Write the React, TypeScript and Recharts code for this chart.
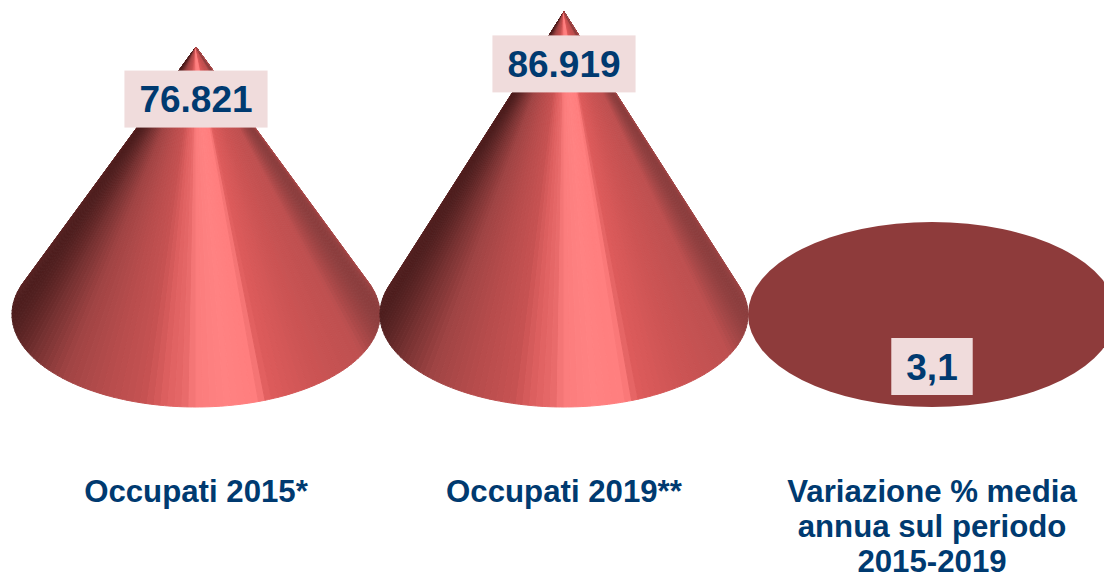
import React from "react";
import { BarChart, Bar, XAxis, YAxis, LabelList } from "recharts";

const categories = ["Occupati 2015*", "Occupati 2019**", "Variazione % media|annua sul periodo|2015-2019"];
const values = [76821, 86919, 3.1];
const valueLabels = ["76.821", "86.919", "3,1"];

const chartData = categories.map((name, i) => ({ name, value: values[i], label: valueLabels[i] }));

const NAVY = "#003a70";
const FONT = "'Liberation Sans', Arial, sans-serif";
const BASE_RY = 92.5;
const WEDGES = 100;
const SHADE: [number, number[]][] = [
  [0, [78, 30, 30]],
  [0.015, [90, 36, 36]],
  [0.06, [120, 50, 50]],
  [0.14, [160, 68, 68]],
  [0.25, [182, 76, 76]],
  [0.36, [198, 82, 82]],
  [0.42, [222, 96, 96]],
  [0.47, [232, 106, 106]],
  [0.5, [250, 124, 124]],
  [0.58, [255, 130, 130]],
  [0.67, [255, 126, 126]],
  [0.7, [222, 92, 92]],
  [0.82, [205, 84, 84]],
  [0.95, [190, 80, 80]],
  [1, [140, 62, 62]],
];

function shadeAt(f: number) {
  const t = Math.max(0, Math.min(1, f));
  for (let i = 1; i < SHADE.length; i++) {
    if (t <= SHADE[i][0]) {
      const [a, ca] = SHADE[i - 1];
      const [b, cb] = SHADE[i];
      const k = (t - a) / (b - a);
      const c = ca.map((v, j) => Math.round(v + (cb[j] - v) * k));
      return `rgb(${c[0]},${c[1]},${c[2]})`;
    }
  }
  return "rgb(140,62,62)";
}

function ConeShape(props: any) {
  const { x, y, width, height } = props;
  const cx = x + width / 2;
  const rx = width / 2;
  const cy = y + height;
  const h = height;
  if (h <= BASE_RY) {
    return <ellipse cx={cx} cy={cy} rx={rx} ry={BASE_RY} fill="#8e3b3b" />;
  }
  const a = Math.asin(BASE_RY / h);
  const start = Math.PI + a;
  const end = -a;
  const wedges = [];
  for (let i = 0; i < WEDGES; i++) {
    const t0 = start + ((end - start) * i) / WEDGES;
    const t1 = start + ((end - start) * (i + 1)) / WEDGES;
    const x0 = cx + rx * Math.cos(t0);
    const y0 = cy + BASE_RY * Math.sin(t0);
    const x1 = cx + rx * Math.cos(t1);
    const y1 = cy + BASE_RY * Math.sin(t1);
    const f = ((x0 + x1) / 2 - x) / width;
    const c = shadeAt(f);
    wedges.push(
      <path
        key={i}
        d={`M${cx},${y} L${x0},${y0} A${rx},${BASE_RY} 0 0 0 ${x1},${y1} Z`}
        fill={c}
        stroke={c}
        strokeWidth={1}
        strokeLinejoin="round"
      />
    );
  }
  return <g>{wedges}</g>;
}

function ValueBadge(props: any) {
  const { x, y, width, height, value } = props;
  const text = String(value);
  const fs = 37;
  let em = 0;
  for (const ch of text) em += /\d/.test(ch) ? 0.556 : 0.278;
  const w = em * fs + 30;
  const cx = x + width / 2;
  const cy = (height > 1 ? y : y + height) + 52;
  return (
    <g>
      <rect x={cx - w / 2} y={cy - 28.5} width={w} height={57} fill="#f0dcdc" />
      <text x={cx} y={cy + 13} textAnchor="middle" fontFamily={FONT} fontWeight="bold" fontSize={fs} fill={NAVY}>
        {text}
      </text>
    </g>
  );
}

function CategoryTick(props: any) {
  const { x, payload } = props;
  const lines = String(payload.value).split("|");
  return (
    <text textAnchor="middle" fontFamily={FONT} fontWeight="bold" fontSize={31.2} fill={NAVY}>
      {lines.map((l, i) => (
        <tspan key={i} x={x} y={502 + i * 35}>
          {l}
        </tspan>
      ))}
    </text>
  );
}

export default function App() {
  return (
    <div style={{ position: "absolute", left: 0, top: 0, width: 1104, height: 574, overflow: "hidden", background: "#fff" }}>
      <BarChart
        width={1116}
        height={574}
        data={chartData}
        margin={{ top: 0, right: 0, bottom: 0, left: 12 }}
        barCategoryGap={0}
      >
        <XAxis dataKey="name" height={259.5} axisLine={false} tickLine={false} interval={0} tick={<CategoryTick />} />
        <YAxis hide domain={[0, 90340]} />
        <Bar dataKey="value" isAnimationActive={false} shape={<ConeShape />}>
          <LabelList dataKey="label" content={<ValueBadge />} />
        </Bar>
      </BarChart>
    </div>
  );
}
